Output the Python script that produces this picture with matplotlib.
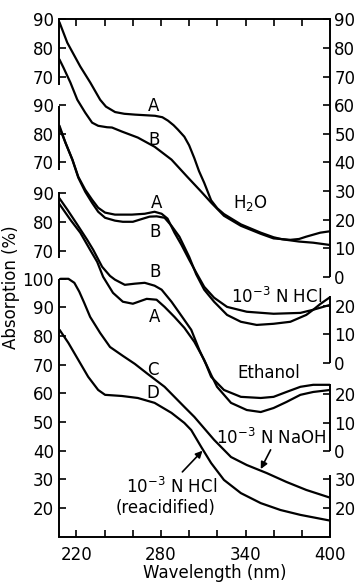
import numpy as np
import matplotlib.pyplot as plt

plt.rcParams['font.family'] = 'DejaVu Sans'
plt.rcParams['font.size'] = 12
plt.rcParams['mathtext.default'] = 'regular'

# curves: wavelength (nm) and absorption (%) on the panel's own scale
h2o_a_wl = [208, 213.6, 222.8, 229.9, 236.9, 241, 247.5, 254, 261.7, 275.8, 281, 285, 289, 292,
            296.6, 300, 303.7, 307, 310.7, 315.6, 320, 324.7, 336.7, 350.8, 359.9, 366, 372, 378, 388, 400]
h2o_a = [89.0, 81.8, 73.5, 67.9, 61.9, 59.5, 57.6, 57.0, 56.7, 56.3, 55.8, 54.6, 53.0, 51.5,
         49.0, 46.0, 41.5, 37.0, 32.9, 26.8, 24.0, 22.0, 18.4, 15.5, 13.9, 13.2, 12.8, 12.4, 12.0, 11.2]
h2o_b_wl = [208, 210.9, 215.8, 220.7, 226.3, 231.2, 235.5, 241.8, 245.3, 252.3, 263.6, 275.5, 287.5,
            298.7, 308.6, 315.6, 324.7, 336.7, 350.8, 359.9, 371.8, 378, 383, 388, 393, 400]
h2o_b = [76.0, 73.1, 67.9, 61.9, 57.4, 53.9, 52.8, 52.3, 52.2, 50.8, 48.7, 45.5, 41.0,
         35.0, 29.8, 26.0, 21.4, 17.9, 15.1, 13.5, 13.0, 13.3, 14.1, 14.8, 15.5, 16.0]

hcl_a_wl = [208, 212.3, 217.2, 221.4, 226.3, 231.2, 235.5, 240.4, 247.4, 259.4, 268.5, 275.5, 280.5,
            284.7, 289.6, 294.5, 300.1, 305.1, 310.7, 317.7, 326.9, 340.9, 359.9, 378.9, 388, 400]
hcl_a = [82.9, 76.9, 71.0, 65.0, 60.5, 57.0, 54.2, 52.5, 51.8, 51.8, 52.1, 52.8, 52.1,
         50.4, 45.5, 41.3, 36.0, 31.5, 26.6, 22.8, 19.6, 17.9, 17.2, 17.5, 18.6, 20.3]
hcl_b_wl = [208, 212.3, 217.2, 221.4, 226.3, 231.2, 235.5, 240.4, 247.4, 253, 260.1, 266, 272, 277,
            282.6, 287.5, 293.1, 300.1, 305, 310.7, 317.7, 326.9, 336.7, 347.9, 359.9, 371.8, 383.1,
            388, 393, 400]
hcl_b = [82.2, 76.9, 71.0, 64.7, 59.8, 55.9, 52.8, 50.7, 49.7, 49.3, 49.3, 50.2, 51.1, 51.2,
         50.7, 47.9, 44.1, 37.0, 31.0, 25.6, 21.4, 16.8, 14.4, 13.3, 13.7, 14.4, 16.8,
         18.6, 20.6, 23.0]

eth_b_wl = [207.3, 213.7, 220.7, 227.7, 232.0, 238.3, 243.9, 247.4, 254.4, 261.5, 268.5, 275.5, 280.5,
            287.5, 293.1, 301.5, 307.2, 312.1, 315.6, 324.7, 336.7, 350.8, 359.9, 369, 378.9, 388, 400]
eth_b = [88.8, 84.3, 79.1, 73.8, 70.3, 64.4, 61.2, 59.9, 58.1, 58.5, 58.8, 57.8, 56.4,
         52.2, 48.3, 42.4, 35.4, 30.2, 26.0, 21.4, 19.0, 18.6, 19.0, 20.7, 22.5, 23.2, 23.2]
eth_a_wl = [207.3, 215.8, 222.8, 229.8, 234.8, 239.0, 246.0, 253.0, 260.1, 269.9, 276.9, 282.6, 289.6,
            296.6, 303.7, 310.7, 315.6, 319.8, 329.7, 340.9, 350.8, 359.9, 369, 378.9, 388, 400]
eth_a = [86.8, 80.8, 76.3, 70.3, 66.1, 60.9, 55.3, 52.2, 51.5, 53.2, 52.9, 50.4, 46.9,
         43.1, 38.2, 31.9, 26.7, 22.5, 16.9, 14.4, 13.7, 15.1, 17.2, 19.7, 20.7, 21.4]

naoh_c_wl = [208.8, 214.4, 218.6, 222.1, 225.6, 229.8, 236.9, 243.9, 253.0, 261.5, 270.6, 282.6, 289.6,
             296.6, 303.7, 317.7, 329.7, 340.9, 355.0, 369.0, 383.1, 400]
naoh_c = [100.0, 100.0, 98.6, 95.5, 91.6, 86.7, 81.1, 76.2, 73.1, 70.3, 66.8, 62.3, 58.8,
          55.3, 51.8, 43.8, 37.8, 35.0, 32.2, 29.1, 26.3, 23.6]
reac_d_wl = [208.1, 214.4, 221.4, 228.4, 235.5, 240.4, 252.3, 263.6, 275.5, 287.5, 296.6, 301.5,
             308.6, 315.6, 324.7, 336.7, 350.8, 364.8, 378.9, 400]
reac_d = [82.2, 77.6, 71.7, 65.8, 61.2, 59.5, 59.1, 58.4, 56.7, 53.2, 49.7, 47.2,
          41.3, 35.7, 29.8, 25.2, 21.7, 19.3, 17.6, 15.6]

# y ticks per panel (left and right scales)
left_ticks = {'h2o': [70, 80, 90], 'hcl': [70, 80, 90], 'eth': [70, 80, 90],
              'naoh': [20, 30, 40, 50, 60, 70, 80, 90, 100]}
right_ticks = {'h2o': [0, 10, 20, 30, 40, 50, 60, 70, 80, 90], 'hcl': [0, 10, 20],
               'eth': [0, 10, 20], 'naoh': [20, 30]}

# layout: vertical shift of each panel, and extent of the broken axis lines
offset = {'h2o': 100.6, 'hcl': 70.6, 'eth': 39.8, 'naoh': 0.0}
left_span = {'h2o': (67.2, 91), 'hcl': (67.5, 89.7), 'eth': (67.4, 90.5), 'naoh': (0, 100)}
right_span = {'h2o': (0, 91), 'hcl': (0, 23.5), 'eth': (0, 23.5), 'naoh': (0, 31.5)}

curves = [(h2o_a_wl, h2o_a, 'h2o'), (h2o_b_wl, h2o_b, 'h2o'),
          (hcl_a_wl, hcl_a, 'hcl'), (hcl_b_wl, hcl_b, 'hcl'),
          (eth_a_wl, eth_a, 'eth'), (eth_b_wl, eth_b, 'eth'),
          (naoh_c_wl, naoh_c, 'naoh'), (reac_d_wl, reac_d, 'naoh')]

fig = plt.figure(figsize=(3.6, 5.83), dpi=100)
ax = fig.add_axes([0.165, 0.079, 0.752, 0.889])
ylo, yhi = 9.9, 190.8

for wl, v, key in curves:
    ax.plot(wl, np.array(v) + offset[key], color='black', lw=1.6,
            solid_joinstyle='round', solid_capstyle='round', clip_on=True)

ax.set_xlim(208, 400)
ax.set_ylim(ylo, yhi)

for s in ['left', 'right']:
    ax.spines[s].set_visible(False)
for s in ['top', 'bottom']:
    ax.spines[s].set_linewidth(1.4)

ytr = ax.get_yaxis_transform()
for key in offset:
    a, b = left_span[key]
    ax.plot([0, 0], [max(a + offset[key], ylo), min(b + offset[key], yhi)], transform=ytr,
            color='black', lw=1.4, clip_on=False, solid_capstyle='butt')
    a, b = right_span[key]
    ax.plot([1, 1], [max(a + offset[key], ylo), min(b + offset[key], yhi)], transform=ytr,
            color='black', lw=1.4, clip_on=False, solid_capstyle='butt')

lt, ll = [], []
for key in left_ticks:
    for t in left_ticks[key]:
        lt.append(t + offset[key])
        ll.append(str(t))
ax.set_yticks(lt)
ax.set_yticklabels(ll)
ax.tick_params(axis='y', direction='in', length=5, width=1.2, pad=4, labelsize=12)

ax2 = ax.twinx()
ax2.set_ylim(ylo, yhi)
rt, rl = [], []
for key in right_ticks:
    for t in right_ticks[key]:
        rt.append(t + offset[key])
        rl.append(str(t))
ax2.set_yticks(rt)
ax2.set_yticklabels(rl)
ax2.tick_params(axis='y', direction='in', length=5, width=1.2, pad=3, labelsize=12)
for s in ax2.spines.values():
    s.set_visible(False)

ax.set_xticks([220, 280, 340, 400])
ax.set_xticks([240, 260, 300, 320, 360, 380], minor=True)
ax.tick_params(axis='x', which='both', direction='in', top=True, length=5, width=1.2,
               pad=6.5, labelsize=12)

ax.set_xlabel('Wavelength (nm)', fontsize=12)
ax.xaxis.set_label_coords(0.575, -0.052)
ax.set_ylabel('Absorption (%)', fontsize=12)
ax.yaxis.set_label_coords(-0.145, 0.481)

labels = [('A', 274.8, 59.8, 'h2o'), ('B', 274.8, 48.0, 'h2o'), ('H$_2$O', 343.7, 26.0, 'h2o'),
          ('A', 277.0, 56.0, 'hcl'), ('B', 275.5, 45.8, 'hcl'),
          ('10$^{-3}$ N HCl', 362.0, 23.1, 'hcl'),
          ('B', 275.5, 62.6, 'eth'), ('A', 275.5, 46.9, 'eth'), ('Ethanol', 356.4, 27.4, 'eth'),
          ('C', 274.1, 68.2, 'naoh'), ('D', 274.1, 60.2, 'naoh'),
          ('10$^{-3}$ N NaOH', 358.5, 44.5, 'naoh'),
          ('10$^{-3}$ N HCl', 287.5, 27.3, 'naoh'), ('(reacidified)', 283.3, 20.0, 'naoh')]
for txt, x, y, key in labels:
    ax.text(x, y + offset[key], txt, ha='center', va='center', fontsize=12)

arrow = dict(arrowstyle='-|>', color='black', lw=1.2, mutation_scale=10, shrinkA=0, shrinkB=0)
ax.annotate('', xy=(350.8, 33.6), xytext=(357.8, 40.3), arrowprops=arrow)
ax.annotate('', xy=(309.5, 40.0), xytext=(295.2, 32.6), arrowprops=arrow)

fig.savefig('out.png', dpi=100)
